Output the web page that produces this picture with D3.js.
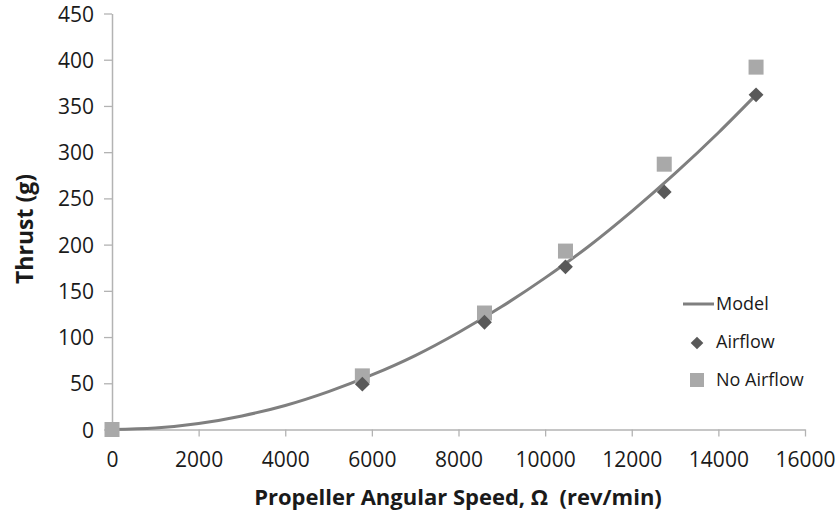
<!DOCTYPE html>
<html>
<head>
<meta charset="utf-8">
<script src="https://cdn.jsdelivr.net/npm/d3@7"></script>
<style>
  body { margin: 0; background: #fff; }
  text { font-family: "Open Sans", "DejaVu Sans", sans-serif; fill: #1a1a1a; }
</style>
</head>
<body>
<svg width="839" height="514"></svg>
<script>
// rotor speed (rev/min) and thrust (g)
var airflowSpeed = [0, 5780, 8600, 10470, 12750, 14870];
var airflowThrust = [0, 49, 116, 176, 257, 362];
var noAirflowSpeed = [0, 5780, 8600, 10470, 12750, 14870];
var noAirflowThrust = [0, 58, 126, 193, 287, 392];
// model curve
var modelSpeed = [0, 1000, 2000, 3000, 4000, 5000, 6000, 7000, 8000, 9000, 10000, 11000, 12000, 13000, 14000, 14870];
var modelThrust = [0, 1.6, 6.5, 14.7, 26, 41, 59, 80, 105, 133, 164, 198, 236, 277, 321, 362];
var xTicks = [0, 2000, 4000, 6000, 8000, 10000, 12000, 14000, 16000];
var yTicks = [0, 50, 100, 150, 200, 250, 300, 350, 400, 450];

var svg = d3.select('svg');
var svgWidth = +svg.attr('width');
var svgHeight = +svg.attr('height');

var x = d3.scaleLinear().domain([0, 16000]).range([112, 805]);
var y = d3.scaleLinear().domain([0, 450]).range([429.5, 13.5]);

var axisColor = '#b3b3b3';

// y axis
var yAxis = svg.append('g')
    .attr('transform', 'translate(' + x(0) + ',0)')
    .call(d3.axisLeft(y).tickValues(yTicks).tickSize(8).tickPadding(10).tickSizeOuter(0));
// x axis
var xAxis = svg.append('g')
    .attr('transform', 'translate(0,' + y(0) + ')')
    .call(d3.axisBottom(x).tickValues(xTicks).tickSize(7).tickPadding(10).tickSizeOuter(0).tickFormat(d3.format('d')));

[xAxis, yAxis].forEach(function(a) {
    a.select('.domain').attr('stroke', axisColor).attr('stroke-width', 1.5);
    a.selectAll('.tick line').attr('stroke', axisColor).attr('stroke-width', 1.3);
    a.selectAll('.tick text')
        .style('font-family', '"Open Sans", sans-serif')
        .style('font-size', '21px')
        .attr('fill', '#1a1a1a');
});
// baseline of x tick labels around y = 467
xAxis.selectAll('.tick text').attr('y', 37).attr('dy', 0);
yAxis.selectAll('.tick text').attr('dy', '0.36em');

// model line
var modelData = modelSpeed.map(function(s, i) { return [s, modelThrust[i]]; });
var line = d3.line()
    .x(function(d) { return x(d[0]); })
    .y(function(d) { return y(d[1]); })
    .curve(d3.curveMonotoneX);

svg.append('path')
    .datum(modelData)
    .attr('d', line)
    .attr('fill', 'none')
    .attr('stroke', '#7f7f7f')
    .attr('stroke-width', 3);

// no airflow squares
var sq = 15;
svg.selectAll('.noair')
    .data(noAirflowSpeed.map(function(s, i) { return [s, noAirflowThrust[i]]; }))
    .enter().append('rect')
    .attr('class', 'noair')
    .attr('x', function(d) { return x(d[0]) - sq / 2; })
    .attr('y', function(d) { return y(d[1]) - sq / 2; })
    .attr('width', sq)
    .attr('height', sq)
    .attr('fill', '#a9a9a9');

// airflow diamonds
var diamond = d3.symbol().type(d3.symbolSquare).size(110);
svg.selectAll('.air')
    .data(airflowSpeed.map(function(s, i) { return [s, airflowThrust[i]]; }).filter(function(d) { return d[0] > 0; }))
    .enter().append('path')
    .attr('class', 'air')
    .attr('d', diamond)
    .attr('transform', function(d) { return 'translate(' + x(d[0]) + ',' + y(d[1]) + ') rotate(45)'; })
    .attr('fill', '#595959');

// legend
var lg = svg.append('g').attr('transform', 'translate(683,0)');
lg.append('line').attr('x1', 0).attr('x2', 31).attr('y1', 304).attr('y2', 304)
    .attr('stroke', '#7f7f7f').attr('stroke-width', 3);
lg.append('path').attr('d', d3.symbol().type(d3.symbolSquare).size(80))
    .attr('transform', 'translate(14,343) rotate(45)').attr('fill', '#595959');
lg.append('rect').attr('x', 7).attr('y', 373).attr('width', 14).attr('height', 14).attr('fill', '#a9a9a9');
var legendLabels = ['Model', 'Airflow', 'No Airflow'];
lg.selectAll('.lt').data(legendLabels).enter().append('text')
    .attr('class', 'lt')
    .attr('x', 33)
    .attr('y', function(d, i) { return 304 + i * 38; })
    .attr('dy', '0.35em')
    .style('font-size', '18px')
    .text(function(d) { return d; });

// axis titles
svg.append('text')
    .attr('x', 458)
    .attr('y', 505)
    .attr('text-anchor', 'middle')
    .style('font-size', '22px')
    .style('font-weight', 'bold')
    .style('white-space', 'pre')
    .text('Propeller Angular Speed, \u03A9  (rev/min)');

svg.append('text')
    .attr('transform', 'translate(33,229) rotate(-90)')
    .attr('text-anchor', 'middle')
    .style('font-size', '23px')
    .style('font-weight', 'bold')
    .text('Thrust (g)');
</script>
</body>
</html>
